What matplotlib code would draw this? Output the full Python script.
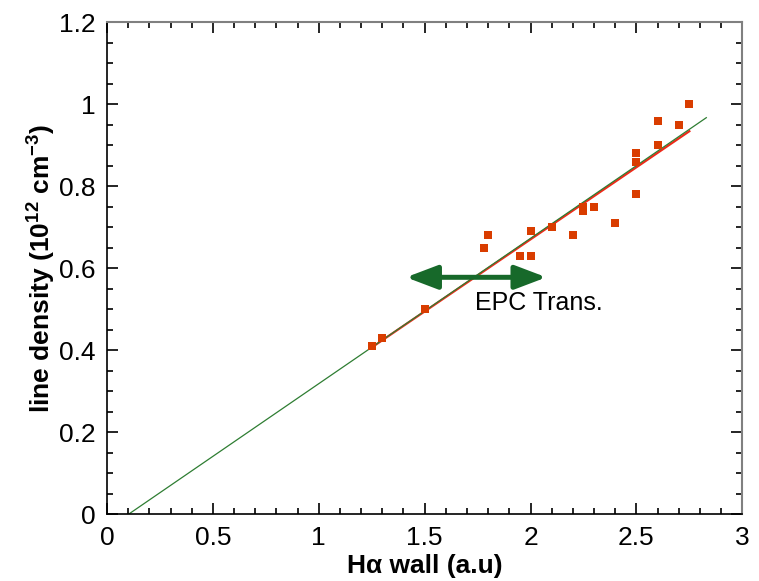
import matplotlib
matplotlib.use("Agg")
import matplotlib.pyplot as plt
from matplotlib.ticker import MultipleLocator

plt.rcParams['font.family'] = ['Liberation Sans', 'DejaVu Sans']
plt.rcParams['mathtext.fontset'] = 'custom'
plt.rcParams['mathtext.rm'] = 'Liberation Sans'
plt.rcParams['mathtext.bf'] = 'Liberation Sans:bold'
plt.rcParams['mathtext.default'] = 'bf'

# measured points: H-alpha wall signal vs line density
h_alpha = [1.25, 1.30, 1.50, 1.78, 1.80, 1.95, 2.00, 2.00, 2.10, 2.20,
           2.25, 2.25, 2.30, 2.40, 2.50, 2.50, 2.50, 2.60, 2.60, 2.70, 2.75]
density = [0.41, 0.43, 0.50, 0.65, 0.68, 0.63, 0.63, 0.69, 0.70, 0.68,
           0.75, 0.74, 0.75, 0.71, 0.88, 0.86, 0.78, 0.90, 0.96, 0.95, 1.00]

# linear fit over the data range (red) and extrapolated fit (green)
fit_x = [1.25, 2.75]
fit_y = [0.407, 0.934]
ext_x = [0.10, 2.83]
ext_y = [0.0, 0.967]

# EPC transition range
epc_range = [1.412, 2.075]
epc_level = 0.578

fig = plt.figure(figsize=(7.59, 5.81), dpi=100)
ax = fig.add_axes([0.141, 0.1145, 0.837, 0.8475])

ax.plot(fit_x, fit_y, color='#ee2a1a', lw=1.6, zorder=2)
ax.plot(ext_x, ext_y, color='#2e7d32', lw=0.9, zorder=2.5)
ax.plot(h_alpha, density, 's', color='#d93d00', markersize=5.5,
        markeredgewidth=0, zorder=3)

ax.annotate('', xy=(epc_range[0], epc_level), xytext=(epc_range[1], epc_level),
            arrowprops=dict(arrowstyle='<|-|>,head_length=0.95,head_width=0.36',
                            mutation_scale=20, color='#17692a', lw=3.6,
                            shrinkA=0, shrinkB=0))
ax.text(1.74, 0.516, 'EPC Trans.', fontsize=18, va='center', ha='left')

ax.set_xlim(0, 3)
ax.set_ylim(0, 1.2)
ax.xaxis.set_minor_locator(MultipleLocator(0.1))
ax.yaxis.set_minor_locator(MultipleLocator(0.05))
ax.xaxis.set_ticks([0, 0.5, 1, 1.5, 2, 2.5, 3], ['0', '0.5', '1', '1.5', '2', '2.5', '3'])
ax.yaxis.set_ticks([0, 0.2, 0.4, 0.6, 0.8, 1.0, 1.2], ['0', '0.2', '0.4', '0.6', '0.8', '1', '1.2'])

ax.tick_params(which='both', direction='in', top=True, right=True,
               labelsize=19, width=1.2)
ax.tick_params(which='major', length=8, pad=8)
ax.tick_params(which='minor', length=4)
for side in ['left', 'bottom']:
    ax.spines[side].set_color('black')
    ax.spines[side].set_linewidth(1.2)
for side in ['top', 'right']:
    ax.spines[side].set_color('#808080')
    ax.spines[side].set_linewidth(1.5)

ax.set_xlabel('H\u03b1 wall (a.u)', fontsize=19, fontweight='bold', labelpad=3)
ax.set_ylabel(r'line density (10$^{12}$ cm$^{-3}$)', fontsize=19,
              fontweight='bold', labelpad=1)

fig.savefig('out.png', dpi=100)
